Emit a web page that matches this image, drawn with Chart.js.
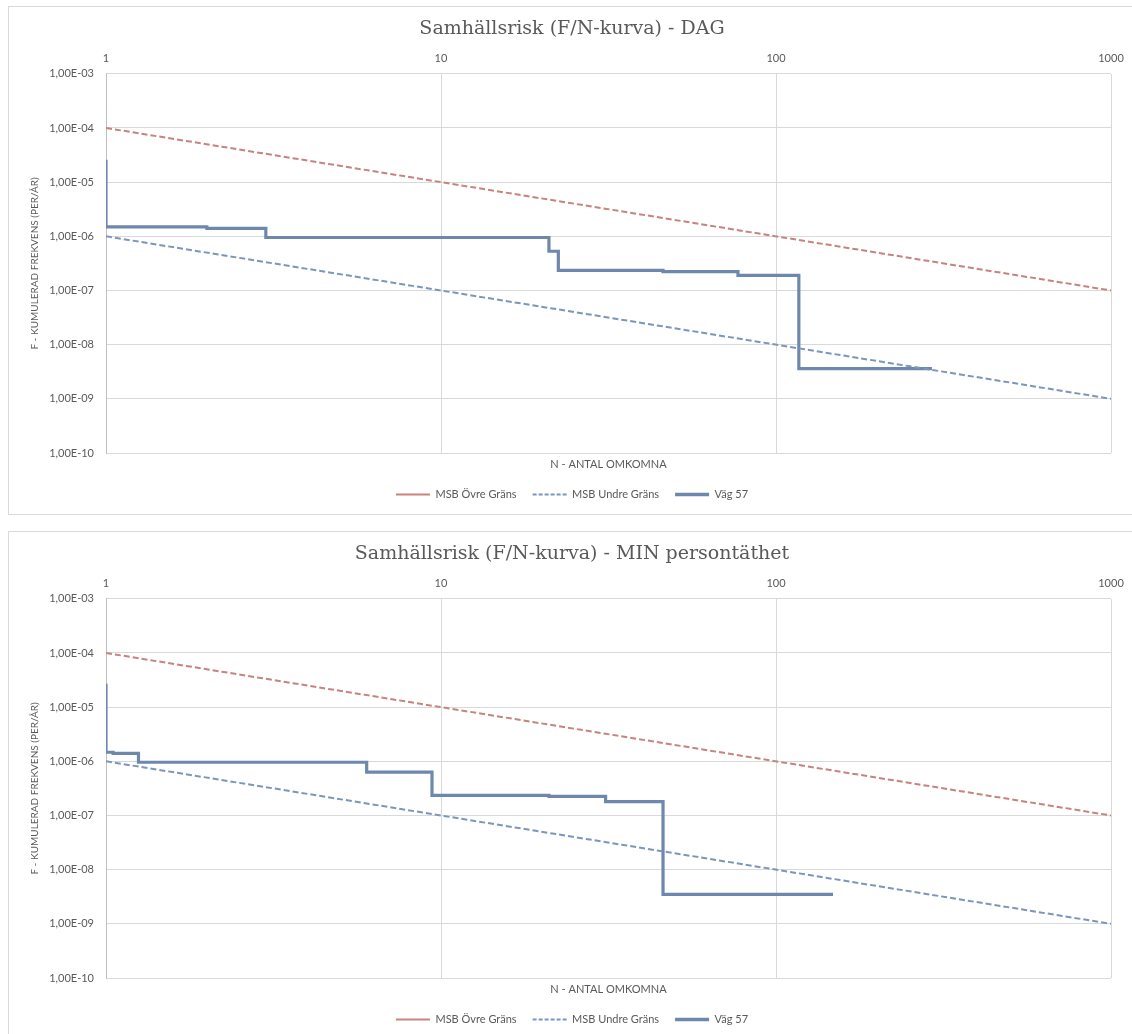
<!DOCTYPE html>
<html>
<head>
<meta charset="utf-8">
<script src="https://cdn.jsdelivr.net/npm/chart.js@4.4.0/dist/chart.umd.min.js"></script>
<style>
body { margin: 0; background: #fff; width: 1132px; height: 1034px; overflow: hidden; position: relative; }
.box { position: absolute; left: 8px; width: 1140px; height: 507px; border: 1px solid #D9D9D9; background: #fff; }
.box canvas { position: absolute; left: 0; top: 0; }
</style>
</head>
<body>
<div class="box" style="top:6px"><canvas id="chartDag" width="1126" height="506"></canvas></div>
<div class="box" style="top:531px"><canvas id="chartMin" width="1126" height="506"></canvas></div>
<script>
// axis ticks (log scales)
const xTicks = [1, 10, 100, 1000];
const yTicks = [1e-10, 1e-9, 1e-8, 1e-7, 1e-6, 1e-5, 1e-4, 1e-3];

// MSB criteria lines
const limitN = [1, 1000];
const ovreF = [1e-4, 1e-7];
const undreF = [1e-6, 1e-9];

// Väg 57 - DAG
const dagN = [1, 1, 2, 3, 21, 22.4, 46, 77, 117, 292];
const dagF = [2.6e-5, 1.5e-6, 1.4e-6, 9.5e-7, 5.3e-7, 2.35e-7, 2.22e-7, 1.9e-7, 3.6e-9, 3.6e-9];

// Väg 57 - MIN persontäthet
const minN = [1, 1, 1.05, 1.25, 6.0, 9.4, 21, 31, 46, 148];
const minF = [2.7e-5, 1.47e-6, 1.4e-6, 9.6e-7, 6.3e-7, 2.35e-7, 2.25e-7, 1.8e-7, 3.5e-9, 3.5e-9];

const txt = '#595959';
const grid = '#D9D9D9';
const red = '#C6837F';
const blue = '#7C95BD';
const line = '#6E87AC';

function pts(xs, ys) {
    return xs.map((x, i) => ({ x: x, y: ys[i] }));
}

function fmt(v) {
    let e = Math.floor(Math.log10(v) + 1e-9);
    let m = (v / Math.pow(10, e)).toFixed(2).replace('.', ',');
    let s = e < 0 ? '-' : '+';
    return m + 'E' + s + String(Math.abs(e)).padStart(2, '0');
}

function makeChart(id, title, n, f) {
    const ctx = document.getElementById(id).getContext('2d');
    new Chart(ctx, {
        type: 'line',
        data: {
            datasets: [{
                label: 'MSB Övre Gräns',
                data: pts(limitN, ovreF),
                borderColor: red,
                backgroundColor: red,
                borderWidth: 2,
                borderDash: [6, 3],
                pointRadius: 0,
                order: 2
            }, {
                label: 'MSB Undre Gräns',
                data: pts(limitN, undreF),
                borderColor: blue,
                backgroundColor: blue,
                borderWidth: 2,
                borderDash: [6, 3],
                pointRadius: 0,
                order: 1
            }, {
                label: 'Väg 57',
                data: pts(n, f),
                borderColor: line,
                backgroundColor: line,
                borderWidth: 3.2,
                stepped: 'before',
                pointRadius: 0,
                order: 3
            }]
        },
        options: {
            responsive: false,
            animation: false,
            layout: { padding: { left: 0, right: 0, top: 0, bottom: 3 } },
            plugins: {
                title: {
                    display: true,
                    text: title,
                    color: txt,
                    font: { family: 'DejaVu Serif', size: 19, weight: 'normal' },
                    padding: { top: 11, bottom: 0 }
                },
                legend: {
                    position: 'bottom',
                    labels: {
                        usePointStyle: true,
                        pointStyleWidth: 34,
                        padding: 16,
                        color: txt,
                        font: { family: 'Lato', size: 11 },
                        generateLabels: function(chart) {
                            let widths = [2, 2, 3.5];
                            let dashes = [[], [4, 2], []];
                            return chart.data.datasets.map((ds, i) => ({
                                text: ds.label,
                                strokeStyle: ds.borderColor,
                                fillStyle: ds.borderColor,
                                lineWidth: widths[i],
                                lineDash: dashes[i],
                                pointStyle: 'line',
                                fontColor: txt,
                                hidden: false,
                                datasetIndex: i
                            }));
                        }
                    }
                },
                tooltip: { enabled: false }
            },
            scales: {
                x: {
                    type: 'logarithmic',
                    position: 'top',
                    min: 1,
                    max: 1000,
                    afterBuildTicks: function(scale) {
                        scale.ticks = xTicks.map(v => ({ value: v }));
                    },
                    afterFit: function(scale) { scale.height = 33; },
                    ticks: {
                        color: txt,
                        font: { family: 'Lato', size: 11 },
                        padding: 9,
                        maxRotation: 0,
                        callback: v => String(v)
                    },
                    grid: { color: grid, drawTicks: false },
                    border: { display: false }
                },
                x2: {
                    type: 'linear',
                    position: 'bottom',
                    ticks: { display: false },
                    grid: { display: false },
                    border: { display: false },
                    afterFit: function(scale) { scale.height = 20; },
                    title: {
                        display: true,
                        text: 'N - ANTAL OMKOMNA',
                        color: txt,
                        font: { family: 'Lato', size: 11 },
                        padding: { top: 0, bottom: 2 }
                    }
                },
                y: {
                    type: 'logarithmic',
                    min: 1e-10,
                    max: 1e-3,
                    afterBuildTicks: function(scale) {
                        scale.ticks = yTicks.map(v => ({ value: v }));
                    },
                    afterFit: function(scale) { scale.width = 97; },
                    ticks: {
                        color: txt,
                        font: { family: 'Lato', size: 11 },
                        padding: 12,
                        callback: fmt
                    },
                    grid: { color: grid, drawTicks: false },
                    border: { color: '#BFBFBF' },
                    title: {
                        display: true,
                        text: 'F - KUMULERAD FREKVENS (PER/ÅR)',
                        color: txt,
                        font: { family: 'Lato', size: 10 },
                        padding: { top: 20, bottom: 0 }
                    }
                },
                y2: {
                    type: 'linear',
                    position: 'right',
                    ticks: { display: false },
                    grid: { display: false },
                    border: { display: false },
                    afterFit: function(scale) { scale.width = 24; }
                }
            }
        }
    });
}

makeChart('chartDag', 'Samhällsrisk (F/N-kurva) - DAG', dagN, dagF);
makeChart('chartMin', 'Samhällsrisk (F/N-kurva) - MIN persontäthet', minN, minF);
</script>
</body>
</html>
